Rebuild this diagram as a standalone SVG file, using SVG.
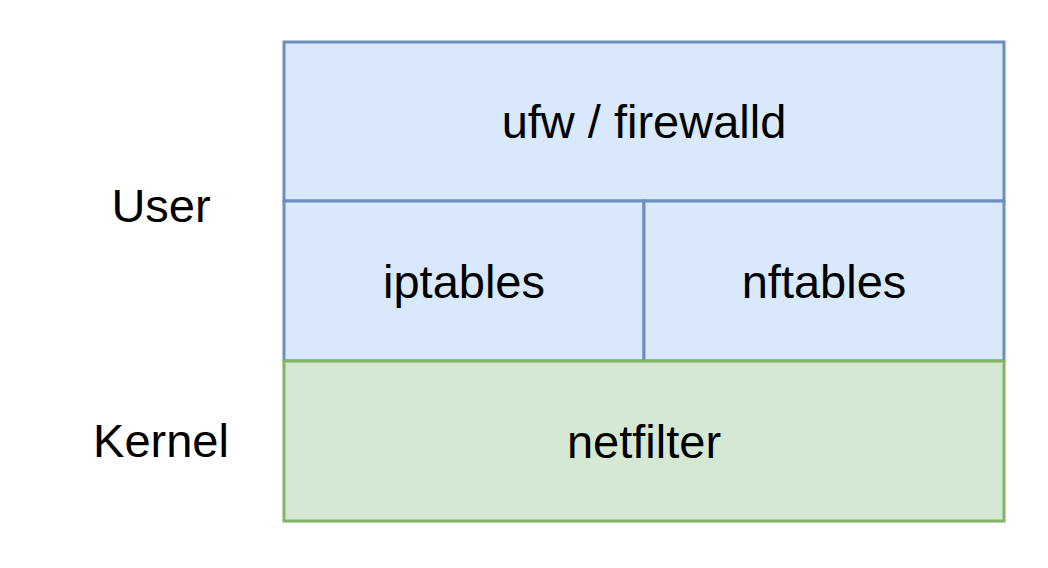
<svg xmlns="http://www.w3.org/2000/svg" width="1048" height="568" viewBox="0 0 1048 568">
<style>
.b{fill:#dae8fc;stroke:#6c8ebf;stroke-width:3}
.g{fill:#d5e8d4;stroke:#82b366;stroke-width:3}
text{font-family:"Liberation Sans",Arial,sans-serif;font-size:47px;fill:#000;text-anchor:middle;dominant-baseline:central}
</style>
<rect width="1048" height="568" fill="#fff"/>
<g id="ufw"><rect class="b" x="284" y="42" width="720" height="159"/><text x="644" y="121">ufw / firewalld</text></g>
<g id="iptables"><rect class="b" x="284" y="201" width="360" height="160"/><text x="464" y="281">iptables</text></g>
<g id="nftables"><rect class="b" x="644" y="201" width="360" height="160"/><text x="824" y="281">nftables</text></g>
<g id="netfilter"><rect class="g" x="284" y="361" width="720" height="160"/><text x="644" y="441">netfilter</text></g>
<g id="user"><text x="161" y="205">User</text></g>
<g id="kernel"><text x="161" y="440">Kernel</text></g>
<g id="connectors"></g>
</svg>
